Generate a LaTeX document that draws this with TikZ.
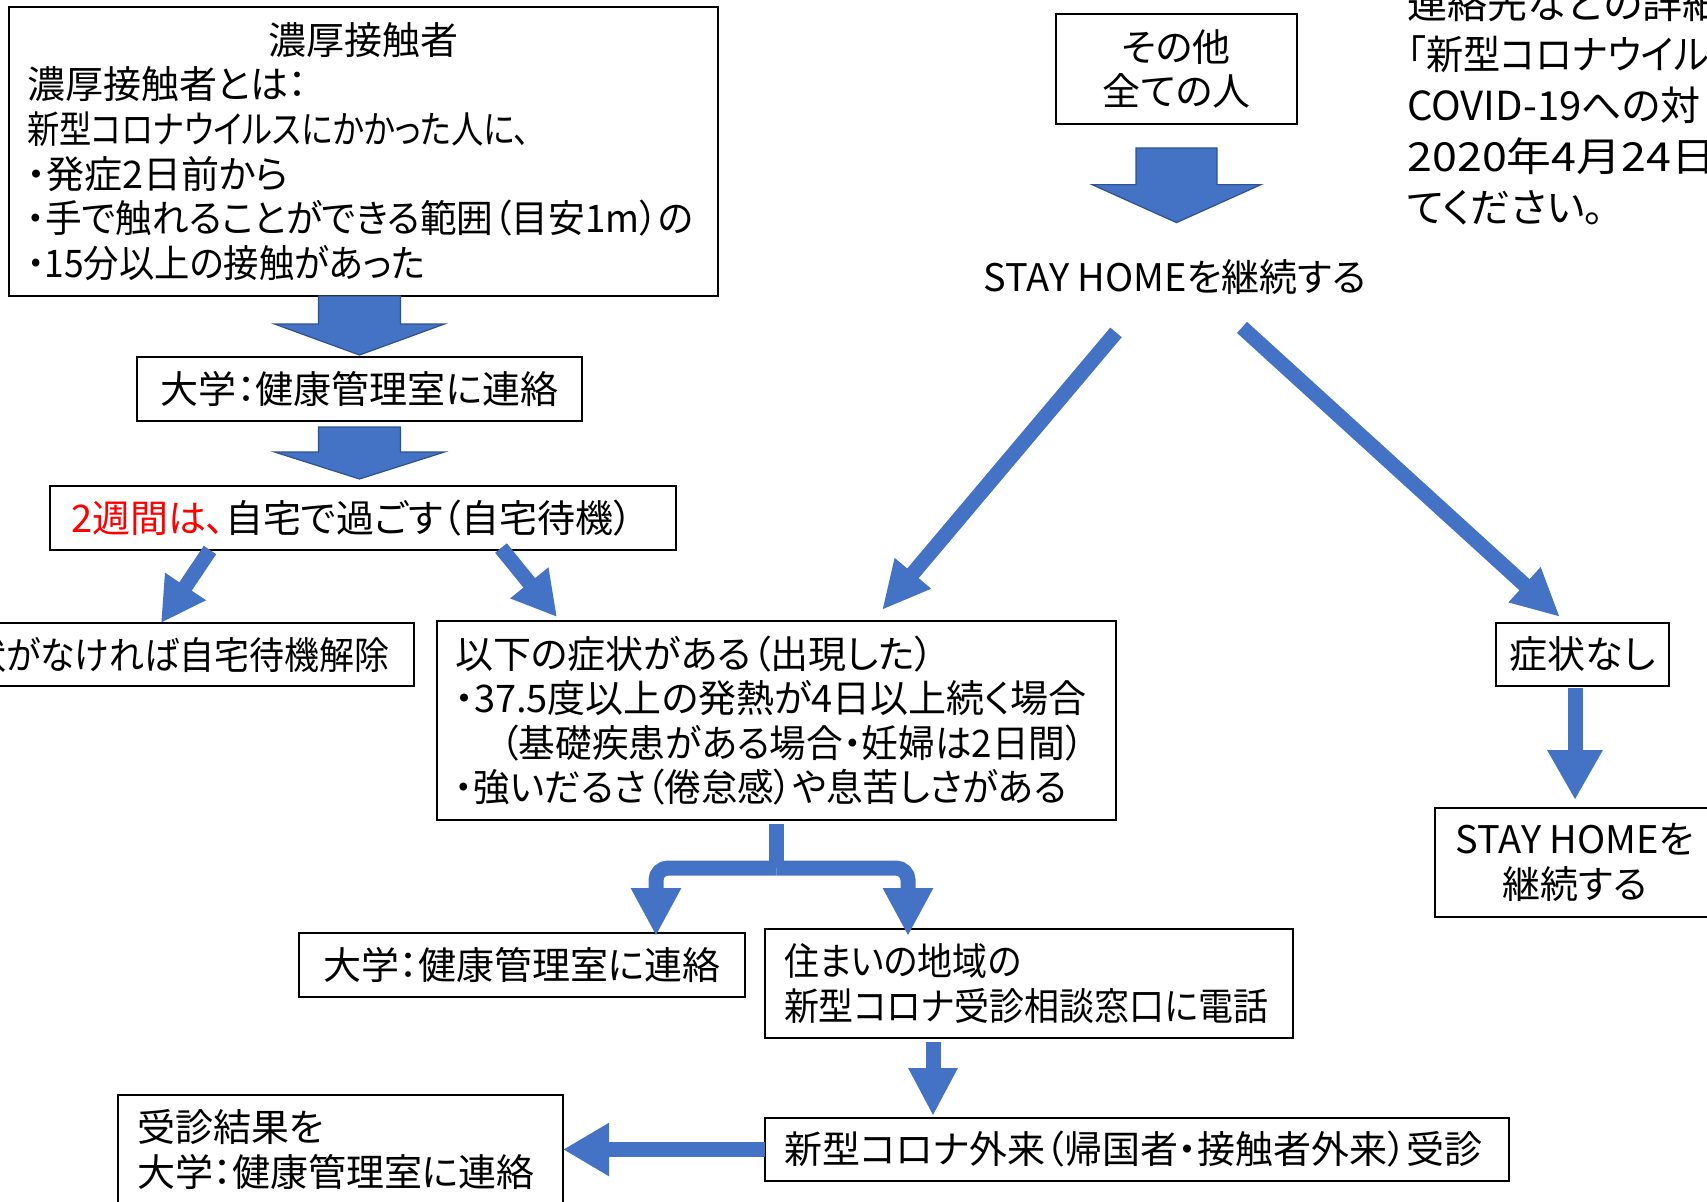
\documentclass[tikz,border=0pt]{standalone}
\usepackage{fontspec}
\usepackage{graphicx}
\newfontfamily\jpfont[RawFeature={+palt}]{Noto Sans CJK JP}
\usetikzlibrary{arrows.meta,calc}
\definecolor{flowblue}{HTML}{4472C4}
\definecolor{flowedge}{HTML}{2F528F}
\definecolor{alertred}{HTML}{FF0000}
\newcommand\boxfont{\jpfont\fontsize{19}{22.3}\selectfont}
\newcommand\notefont{\jpfont\fontsize{20}{25.5}\selectfont}
\newcommand\sqz[2]{\scalebox{#1}[1]{#2}}
% #1 from, #2 to, #3 top gap, #4 tip gap, #5 shaft half width, #6 head half width, #7 head length
\newcommand\fatarrow[7]{%
  \filldraw[fat] let \p1=(#1), \p2=(#2) in
    (\x2-#5,\y1-#3) -- (\x2-#5,\y2+#4+#7) -- (\x2-#6,\y2+#4+#7) -- (\x2,\y2+#4)
    -- (\x2+#6,\y2+#4+#7) -- (\x2+#5,\y2+#4+#7) -- (\x2+#5,\y1-#3) -- cycle;}
\begin{document}
\begin{tikzpicture}[x=0.5pt,y=-0.5pt,
  box/.style={draw=black,line width=1pt,anchor=north west,outer sep=0pt,inner ysep=0pt,font=\boxfont},
  flowline/.style={draw=flowblue,line width=7.5pt},
  fat/.style={fill=flowblue,draw=flowedge,line width=0.6pt,line join=miter}]
\useasboundingbox (0,0) rectangle (1707,1201);
\fill[white] (0,0) rectangle (1707,1201);
\clip (0,0) rectangle (1707,1201);

% boxes
\node[box,minimum width=354.5pt,minimum height=144.5pt,text width=336.5pt,inner xsep=9pt,align=left] (A) at (9,7)
  {\makebox[336.5pt]{濃厚接触者}\\濃厚接触者とは：\\\sqz{0.85}{新型コロナウイルスにかかった人に、}\\・発症2日前から\\\sqz{0.965}{・手で触れることができる範囲（目安1m）の}\\\sqz{0.93}{・15分以上の接触があった}};
\node[box,minimum width=222.5pt,minimum height=32pt,align=center] (B) at (137,357) {大学：健康管理室に連絡};
\node[box,minimum width=313pt,minimum height=32pt,text width=292pt,inner xsep=10.5pt,align=left] (C) at (50,486)
  {\textcolor{alertred}{2週間は、}自宅で過ごす（自宅待機）};
\node[box,minimum width=307pt,minimum height=31.5pt,text width=282pt,inner xsep=12.5pt,align=right] (D) at (-200,623)
  {\sqz{0.92}{症状がなければ自宅待機解除}};
\node[box,minimum width=339.5pt,minimum height=99.5pt,text width=321.5pt,inner xsep=9pt,align=left] (E) at (437,621)
  {以下の症状がある（出現した）\\・37.5度以上の発熱が4日以上続く場合\\\hspace*{1.2em}\sqz{0.965}{（基礎疾患がある場合・妊婦は2日間）}\\\sqz{0.96}{・強いだるさ（倦怠感）や息苦しさがある}};
\node[box,minimum width=120.5pt,minimum height=55pt,align=center] (F) at (1056,14) {その他\\全ての人};
\node[font=\boxfont,inner sep=0pt,minimum height=20pt] (STAY) at (1175,277) {STAY HOMEを継続する};
\node[box,minimum width=86.5pt,minimum height=31.5pt,align=center] (G) at (1496,623) {症状なし};
\node[box,minimum width=140pt,minimum height=54.5pt,align=center] (H) at (1435,808) {STAY HOMEを\\継続する};
\node[box,minimum width=223pt,minimum height=32pt,align=center] (I) at (299,933) {大学：健康管理室に連絡};
\node[box,minimum width=264pt,minimum height=54.5pt,text width=245pt,inner xsep=9.5pt,align=left] (J) at (765,929)
  {\sqz{0.92}{住まいの地域の}\\\sqz{0.92}{新型コロナ受診相談窓口に電話}};
\node[box,minimum width=372pt,minimum height=31.5pt,text width=353pt,inner xsep=9.5pt,align=left] (K) at (765,1118)
  {新型コロナ外来（帰国者・接触者外来）受診};
\node[box,minimum width=222.5pt,minimum height=54.5pt,text width=203.5pt,inner xsep=9.5pt,align=left] (L) at (118,1095)
  {受診結果を\\大学：健康管理室に連絡};
\node[font=\notefont,align=left,anchor=west,inner sep=0pt] (note) at (1407,105)
  {連絡先などの詳細\\\sqz{0.93}{「新型コロナウイルス}\\COVID-19への対\\\sqz{1.12}{2020年4月24日}\\てください。};

% fat block arrows
\fatarrow{A.south}{B.north}{0pt}{1pt}{20.5pt}{42.5pt}{15.5pt}
\fatarrow{B.south}{B.south |- C.north}{3pt}{3.5pt}{20.5pt}{42.5pt}{13.5pt}
\fatarrow{F.south}{F.south |- STAY.north}{12pt}{17pt}{20.25pt}{42.25pt}{19pt}

% line arrows
\draw[flowline,-{Triangle[length=22pt,width=23pt]}] ($(C.south west)+(160,0)$) -- ($(D.north east)+(-253,0)$);
\draw[flowline,-{Triangle[length=22pt,width=23pt]}] ($(C.south west)+(451,-2)$) -- ($(E.north west)+(120,-4)$);
\draw[flowline,-{Triangle[length=24pt,width=22pt]}] ($(STAY.south)+(-59,35)$) -- ($(E.north east)+(-234,-11)$);
\draw[flowline,-{Triangle[length=24pt,width=22pt]}] ($(STAY.south)+(67,30)$) -- ($(G.north west)+(64,-6)$);
\draw[flowline,-{Triangle[length=25pt,width=26pt]}] ($(H.north |- G.south)+(0,2)$) -- ($(H.north)+(0,-8)$);
\coordinate (split) at ($(E.south)+(0,48)$);
\draw[flowline] ($(E.south)+(0,4)$) -- (split);
\draw[flowline,rounded corners=6pt,-{Triangle[length=24pt,width=23.5pt]}] (split) -| ($(I.north east)+(-89,3)$);
\draw[flowline,rounded corners=6pt,-{Triangle[length=24pt,width=23.5pt]}] (split) -| ($(J.north west)+(143,7)$);
\draw[flowline,-{Triangle[length=24pt,width=23pt]}] ($(J.south west)+(168,4)$) -- ($(K.north west)+(168,-2)$);
\draw[flowline,-{Triangle[length=23pt,width=25pt]}] (K.west) -- (L.east);
\end{tikzpicture}
\end{document}
